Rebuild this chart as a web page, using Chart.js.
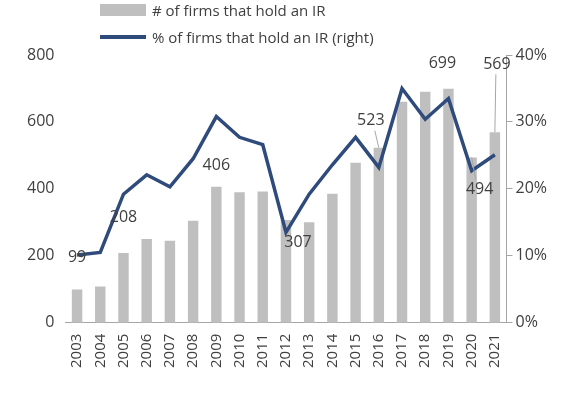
<!DOCTYPE html><html><head><script src="https://cdn.jsdelivr.net/npm/chart.js@4"></script>
<style>body{margin:0;background:#fff;font-family:"Open Sans",sans-serif}
#wrap{position:relative;width:580px;height:401px}
.lg{position:absolute;left:100px;font-size:15px;color:#404040;display:flex;align-items:center}
.sw{display:inline-block;margin-right:6px}</style></head><body>
<div id="wrap"><canvas id="c" width="580" height="401"></canvas>
<div class="lg" style="top:0px"><span class="sw" style="width:46px;height:12px;background:#BFBFBF"></span># of firms that hold an IR</div>
<div class="lg" style="top:27px"><span class="sw" style="width:46px;height:4px;background:#2F4B7C"></span>% of firms that hold an IR (right)</div>
</div>
<script>
const years=["2003","2004","2005","2006","2007","2008","2009","2010","2011","2012","2013","2014","2015","2016","2017","2018","2019","2020","2021"];
const firms=[99,108,208,250,245,305,406,390,392,307,300,385,478,523,660,690,699,494,569];
const pct=[10.1,10.5,19.2,22.1,20.3,24.5,30.8,27.7,26.6,13.5,19.2,23.6,27.7,23.2,35.0,30.4,33.5,22.7,25.1];
const labelled=[0,2,6,9,13,16,17,18];
const offs={0:[0,-32,0],2:[0,-36,0],6:[0,-21,0],9:[12,22,0],13:[-8,-27,1],16:[-6,-25,0],17:[8,32,1],18:[2,-68,1]};
const lblPlugin={id:'lbl',afterDatasetsDraw(ch){const c=ch.ctx,x=ch.scales.x,y=ch.scales.y;c.save();c.font='16px "Open Sans"';c.fillStyle='#404040';c.textAlign='center';c.textBaseline='middle';
labelled.forEach(i=>{const px=x.getPixelForValue(i),py=y.getPixelForValue(firms[i]);const o=offs[i];
if(o[2]){c.strokeStyle='#A6A6A6';c.lineWidth=1;c.beginPath();const dy=o[1]<0?o[1]+10:o[1]-10;c.moveTo(px+o[0]*0.5,py+dy);c.lineTo(px,py);c.stroke();}
c.fillText(firms[i],px+o[0],py+o[1]);});c.restore();}};
new Chart(document.getElementById('c'),{data:{labels:years,datasets:[
{type:'line',data:pct,yAxisID:'y1',borderColor:'#2F4B7C',borderWidth:3.5,pointRadius:0,tension:0,order:0},
{type:'bar',data:firms,yAxisID:'y',backgroundColor:'#BFBFBF',barPercentage:0.45,categoryPercentage:1,order:1}]},
options:{responsive:false,animation:false,layout:{padding:{left:24,right:30,top:55,bottom:30}},
plugins:{legend:{display:false},tooltip:{enabled:false}},
scales:{x:{grid:{display:false},border:{color:'#A6A6A6'},ticks:{color:'#404040',font:{size:15,family:'Open Sans'},maxRotation:90,minRotation:90,autoSkip:false}},
y:{min:0,max:800,ticks:{stepSize:200,color:'#404040',font:{size:16,family:'Open Sans'}},grid:{display:false},border:{display:false}},
y1:{position:'right',min:0,max:40,ticks:{stepSize:10,color:'#404040',font:{size:16,family:'Open Sans'},callback:v=>v+'%'},grid:{drawOnChartArea:false,tickLength:6,color:'#A6A6A6'},border:{color:'#A6A6A6'}}}},
plugins:[lblPlugin]});
</script></body></html>
